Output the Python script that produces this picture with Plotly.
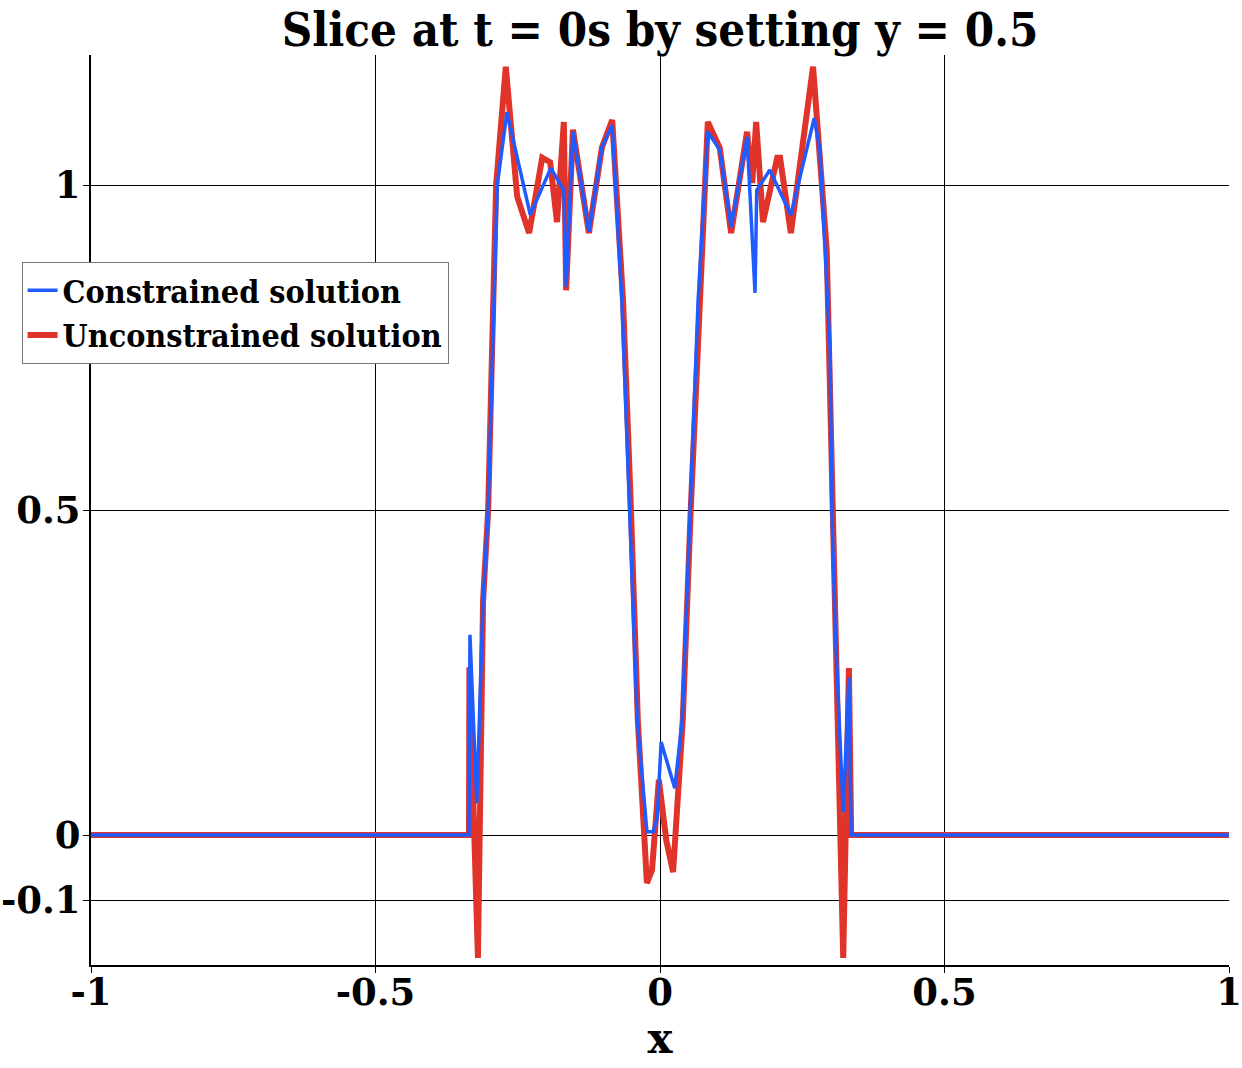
import plotly.graph_objects as go

# Constrained solution (blue)
x_con = [-1.0, -0.3357, -0.334, -0.322, -0.311, -0.302, -0.286, -0.269, -0.228, -0.192,
         -0.169, -0.165, -0.153, -0.125, -0.102, -0.084, -0.067, -0.053, -0.040, -0.023,
         -0.012, -0.005, 0.002, 0.026, 0.039, 0.053, 0.067, 0.084, 0.105, 0.125,
         0.153, 0.167, 0.170, 0.193, 0.230, 0.271, 0.281, 0.299, 0.302, 0.308,
         0.322, 0.332, 0.336, 1.0]
y_con = [0.0, 0.0, 0.308, 0.049, 0.36, 0.50, 1.0, 1.112, 0.954, 1.026,
         0.992, 0.843, 1.082, 0.928, 1.058, 1.092, 0.823, 0.50, 0.177, 0.005,
         0.005, 0.026, 0.143, 0.072, 0.177, 0.50, 0.823, 1.082, 1.054, 0.935,
         1.074, 0.834, 0.992, 1.023, 0.954, 1.103, 1.054, 0.746, 0.50, 0.315,
         0.035, 0.242, 0.0, 0.0]

# Unconstrained solution (red)
x_unc = [-1.0, -0.3357, -0.335, -0.320, -0.311, -0.302, -0.288, -0.271, -0.251, -0.230,
         -0.207, -0.193, -0.181, -0.169, -0.165, -0.153, -0.125, -0.102, -0.084, -0.065,
         -0.051, -0.039, -0.023, -0.014, -0.002, 0.011, 0.023, 0.040, 0.054, 0.069,
         0.084, 0.105, 0.125, 0.153, 0.162, 0.169, 0.181, 0.206, 0.211, 0.230,
         0.269, 0.293, 0.302, 0.308, 0.322, 0.332, 0.336, 1.0]
y_unc = [0.0, 0.0, 0.258, -0.189, 0.36, 0.50, 1.0, 1.182, 0.982, 0.926,
         1.042, 1.035, 0.943, 1.097, 0.838, 1.085, 0.926, 1.058, 1.10, 0.823,
         0.50, 0.177, -0.074, -0.054, 0.085, -0.008, -0.057, 0.177, 0.50, 0.823,
         1.097, 1.057, 0.926, 1.082, 1.003, 1.097, 0.943, 1.042, 1.042, 0.926,
         1.182, 0.90, 0.59, 0.315, -0.189, 0.257, 0.0, 0.0]

x_ticks = [-1, -0.5, 0, 0.5, 1]
x_tick_labels = ["-1", "-0.5", "0", "0.5", "1"]
y_ticks = [-0.1, 0, 0.5, 1]
y_tick_labels = ["-0.1", "0", "0.5", "1"]

TICK_FONT = dict(family="DejaVu Serif", size=37, color="black", weight="bold")

fig = go.Figure()
fig.add_trace(go.Scatter(x=x_unc, y=y_unc, mode="lines", name="Unconstrained solution",
                         line=dict(color="#e0332a", width=6)))
fig.add_trace(go.Scatter(x=x_con, y=y_con, mode="lines", name="Constrained solution",
                         line=dict(color="#1f5cff", width=3.5)))

fig.update_layout(
    width=1242, height=1068,
    paper_bgcolor="white", plot_bgcolor="white",
    margin=dict(l=91, r=13, t=55, b=103, autoexpand=False),
    title=dict(text="Slice at t = 0s by setting y = 0.5", x=0.5, xref="paper", xanchor="center",
               y=0.972, yanchor="middle",
               font=dict(family="DejaVu Serif Condensed", size=47, color="black", weight="bold")),
    showlegend=True,
    legend=dict(x=-0.061, y=0.7725, xanchor="left", yanchor="top",
                bgcolor="white", bordercolor="#777777", borderwidth=1,
                traceorder="reversed", itemwidth=30, tracegroupgap=0,
                font=dict(family="DejaVu Serif Condensed", size=32, color="black", weight="bold")),
    xaxis=dict(range=[-1, 1], tickvals=x_ticks, ticktext=x_tick_labels,
               showgrid=True, gridcolor="black", gridwidth=1, automargin=False,
               zeroline=False, showline=True, linecolor="black", linewidth=2,
               ticks="outside", ticklen=6, tickcolor="black",
               tickfont=TICK_FONT, ticklabelstandoff=-12,
               title=dict(text="x", font=dict(family="DejaVu Serif", size=42, color="black", weight="bold"),
                          standoff=8)),
    yaxis=dict(range=[-0.2, 1.2], tickvals=y_ticks, ticktext=y_tick_labels,
               showgrid=True, gridcolor="black", gridwidth=1, automargin=False,
               zeroline=False, showline=True, linecolor="black", linewidth=2,
               ticks="outside", ticklen=6, tickcolor="black",
               tickfont=TICK_FONT, ticklabelstandoff=-5),
)

fig.write_html("out.html", config={"displayModeBar": False},
               post_script="document.body.style.margin='0';")
